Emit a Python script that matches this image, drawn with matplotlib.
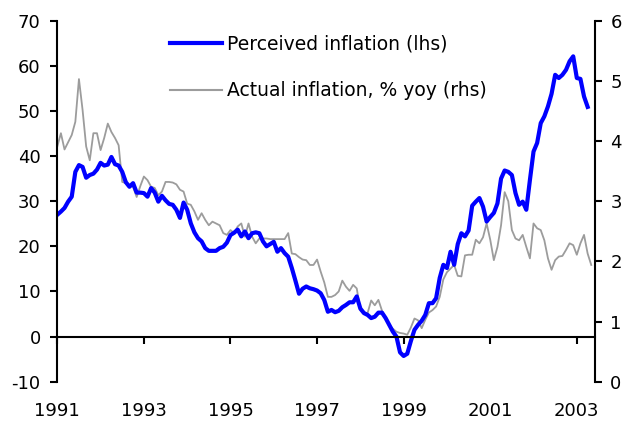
import matplotlib
matplotlib.use("Agg")
import matplotlib.pyplot as plt
import numpy as np

start_year = 1991
perceived = [27.0, 27.7, 28.5, 29.9, 31.0, 36.5, 38.0, 37.6, 35.2, 35.8, 36.1, 37.0,
             38.5, 37.9, 38.1, 39.8, 38.2, 37.9, 36.5, 34.2, 33.2, 34.0, 31.9, 31.9,
             31.8, 31.0, 32.9, 31.9, 29.9, 31.2, 30.2, 29.4, 29.2, 28.1, 26.3, 29.7,
             28.1, 25.1, 23.1, 21.8, 21.1, 19.6, 19.0, 19.0, 19.0, 19.6, 19.9, 20.8,
             22.5, 23.0, 23.7, 22.2, 23.3, 21.8, 22.9, 23.1, 22.9, 21.1, 20.0, 20.5,
             21.0, 18.8, 19.6, 18.5, 17.7, 15.2, 12.4, 9.5, 10.6, 11.1, 10.7, 10.5,
             10.2, 9.6, 8.1, 5.5, 5.9, 5.4, 5.7, 6.5, 7.0, 7.6, 7.6, 8.9,
             6.2, 5.2, 4.8, 4.1, 4.4, 5.3, 5.3, 4.1, 2.6, 1.1, 0.0, -3.5,
             -4.3, -3.8, -1.0, 1.5, 2.6, 3.5, 4.8, 7.4, 7.4, 8.5, 13.0, 15.9,
             15.2, 18.8, 15.9, 20.5, 22.9, 22.2, 23.5, 29.0, 29.9, 30.7, 28.8, 25.5,
             26.5, 27.4, 29.5, 35.0, 36.8, 36.5, 35.8, 31.8, 29.2, 29.9, 28.1, 34.7,
             41.0, 42.9, 47.3, 48.8, 51.0, 53.8, 58.0, 57.3, 58.0, 59.1, 61.0, 62.1,
             57.3, 57.1, 53.2, 50.9]
actual = [3.91, 4.13, 3.86, 3.98, 4.10, 4.32, 5.03, 4.52, 3.91, 3.68, 4.13, 4.13,
          3.85, 4.05, 4.29, 4.15, 4.05, 3.93, 3.32, 3.30, 3.27, 3.24, 3.07, 3.25,
          3.41, 3.35, 3.24, 3.22, 3.10, 3.16, 3.32, 3.32, 3.31, 3.28, 3.19, 3.16,
          2.96, 2.94, 2.83, 2.69, 2.80, 2.69, 2.60, 2.66, 2.63, 2.60, 2.47, 2.44,
          2.52, 2.47, 2.58, 2.63, 2.41, 2.63, 2.41, 2.30, 2.38, 2.38, 2.38, 2.37,
          2.37, 2.37, 2.37, 2.37, 2.47, 2.13, 2.12, 2.07, 2.03, 2.02, 1.94, 1.94,
          2.03, 1.83, 1.65, 1.41, 1.41, 1.44, 1.50, 1.68, 1.58, 1.51, 1.61, 1.55,
          1.19, 1.15, 1.14, 1.35, 1.27, 1.36, 1.18, 1.05, 0.93, 0.88, 0.83, 0.81,
          0.80, 0.78, 0.90, 1.05, 1.02, 0.89, 1.03, 1.15, 1.19, 1.25, 1.41, 1.70,
          1.82, 1.88, 1.94, 1.76, 1.75, 2.10, 2.11, 2.11, 2.36, 2.30, 2.40, 2.63,
          2.36, 2.02, 2.24, 2.60, 3.15, 3.00, 2.52, 2.38, 2.35, 2.44, 2.24, 2.05,
          2.63, 2.55, 2.52, 2.35, 2.05, 1.86, 2.02, 2.08, 2.09, 2.19, 2.30, 2.27,
          2.11, 2.30, 2.44, 2.13, 1.94]
year_ticks = [1991, 1993, 1995, 1997, 1999, 2001, 2003]
lhs_ticks = [-10, 0, 10, 20, 30, 40, 50, 60, 70]
rhs_ticks = [0, 1, 2, 3, 4, 5, 6]
label_perceived = "Perceived inflation (lhs)"
label_actual = "Actual inflation, % yoy (rhs)"

x_p = start_year + np.arange(len(perceived)) / 12.0
x_a = start_year + np.arange(len(actual)) / 12.0

plt.rcParams['font.family'] = ['DejaVu Sans']
plt.rcParams['axes.unicode_minus'] = False
FS = 13
LFS = 13.5

fig = plt.figure(figsize=(6.24, 4.26), dpi=100)
ax = fig.add_axes([57.3/624, 1 - 381.7/426, (595 - 57.3)/624, (381.7 - 20.7)/426])
ax2 = ax.twinx()

ax.set_zorder(2)
ax.patch.set_visible(False)

l2, = ax2.plot(x_a, actual, color='#9c9c9c', lw=1.3, label=label_actual)
l1, = ax.plot(x_p, perceived, color='#0000ff', lw=3.0, label=label_perceived,
              solid_joinstyle='round')

ax.set_xlim(1991, 2003.42)
ax.set_ylim(-10, 70)
ax2.set_ylim(0, 6)
ax.set_yticks(lhs_ticks)
ax2.set_yticks(rhs_ticks)
ax.set_xticks(year_ticks)
ax.set_xticklabels([str(y) for y in year_ticks])

for a in (ax, ax2):
    a.spines['top'].set_visible(False)
    for s in a.spines.values():
        s.set_linewidth(1.5)
ax.spines['right'].set_visible(False)
ax2.spines['left'].set_visible(False)
ax2.spines['bottom'].set_visible(False)
ax.spines['bottom'].set_position(('data', 0))

ax.tick_params(axis='y', direction='out', length=5, width=1.5, pad=7, labelsize=FS)
ax2.tick_params(axis='y', direction='out', length=5, width=1.5, pad=6, labelsize=FS)
ax.tick_params(axis='x', direction='out', length=5, width=1.5, pad=42, labelsize=FS)

leg = ax.legend(handles=[l1, l2], loc='upper left',
                bbox_to_anchor=(170/624, 1 - 35/426), bbox_transform=fig.transFigure,
                frameon=False, fontsize=LFS, handlelength=2.75, handletextpad=0.28,
                labelspacing=1.45, borderpad=0, borderaxespad=0)
leg.legend_handles[1].set_linewidth(1.5)

fig.savefig("out.png", dpi=100)
